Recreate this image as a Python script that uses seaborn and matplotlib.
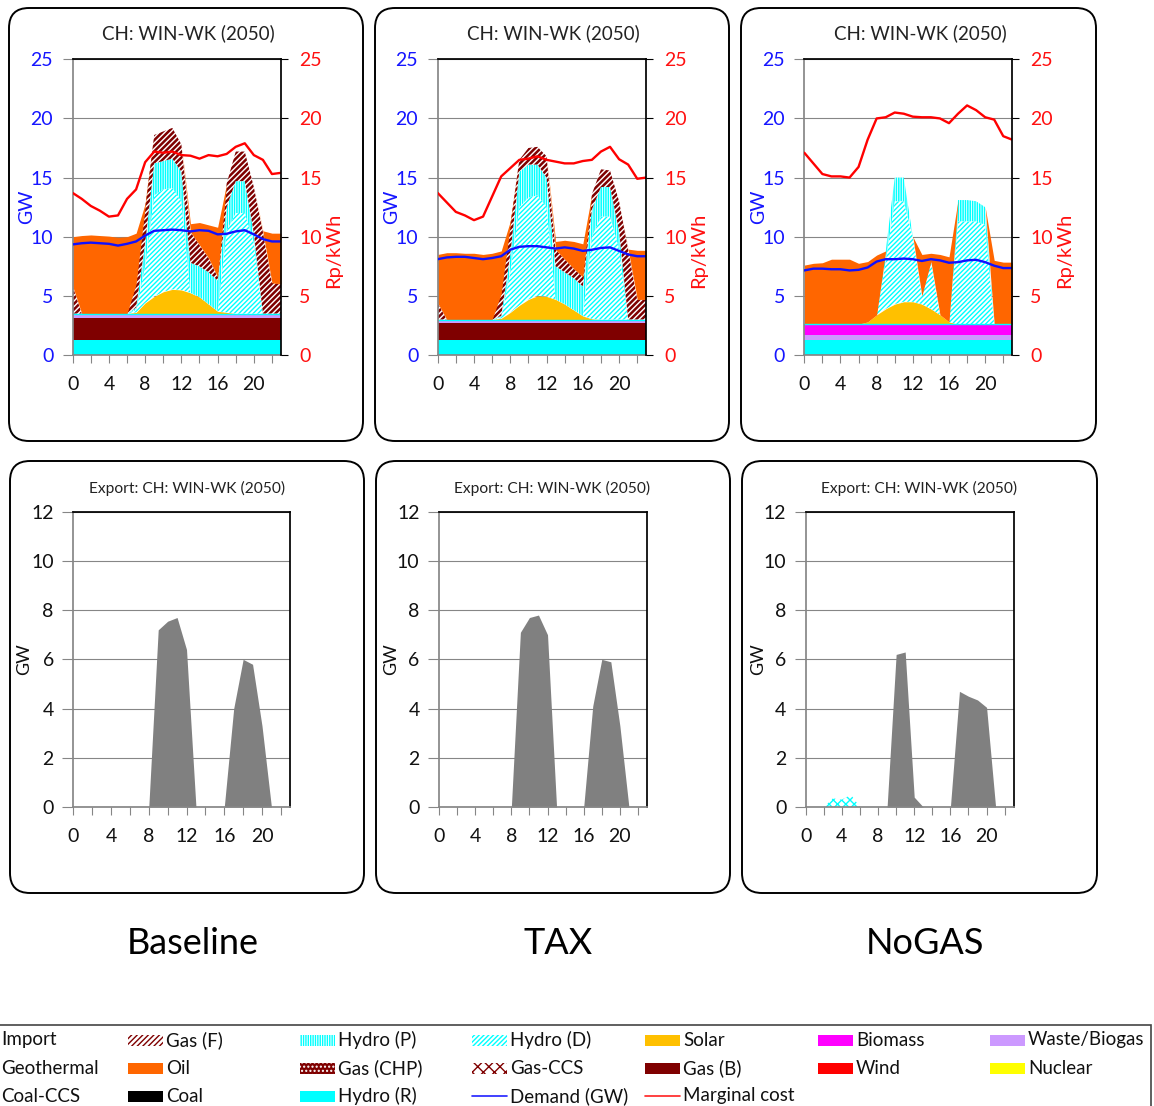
import matplotlib
matplotlib.use("Agg")
import numpy as np
import matplotlib.pyplot as plt
from matplotlib.patches import FancyBboxPatch, Rectangle
from matplotlib.lines import Line2D
import seaborn as sns

hours = list(range(24))
scenarios = ["Baseline", "TAX", "NoGAS"]

# --- Baseline: dispatch (GW), stacked bottom -> top
base_hydro_r = [1.3] * 24
base_gas_b = [1.8] * 24
base_waste = [0.4] * 24
base_biomass = [0.0] * 24
base_solar = [0, 0, 0, 0, 0, 0, 0, 0.1, 0.9, 1.45, 1.85, 2.05, 2.0, 1.75, 1.4, 0.8, 0.2, 0.1, 0, 0, 0, 0, 0, 0]
base_hydro_d = [0, 0, 0, 0, 0, 0, 0, 0.2, 3.1, 8.55, 8.65, 8.55, 7.5, 0, 0, 0, 0, 6.9, 8.5, 8.5, 6.0, 0, 0, 0]
base_hydro_p = [0, 0, 0, 0, 0, 0, 0, 0.2, 2.0, 2.7, 2.4, 2.5, 2.5, 2.55, 2.6, 2.7, 2.6, 2.0, 2.7, 2.7, 0.8, 0, 0, 0]
base_gas_f = [2.3, 0, 0, 0, 0, 0, 0, 2.0, 3.0, 2.4, 2.5, 2.6, 2.3, 2.6, 1.8, 1.2, 0.3, 2.0, 2.5, 2.5, 3.9, 6.9, 2.6, 2.5]
base_import = [4.2, 6.6, 6.65, 6.6, 6.55, 6.45, 6.5, 4.3, 0.3, 0, 0, 0, 0, 0.7, 1.9, 2.8, 4.2, 0, 0, 0, 0, 0.1, 4.2, 4.3]
base_demand = [9.35, 9.45, 9.5, 9.45, 9.4, 9.25, 9.4, 9.6, 10.1, 10.5, 10.55, 10.6, 10.55, 10.45, 10.55, 10.5, 10.2, 10.25, 10.45, 10.55, 10.2, 9.8, 9.6, 9.6]
base_mc = [13.7, 13.2, 12.6, 12.2, 11.7, 11.8, 13.2, 14.0, 16.3, 17.2, 17.1, 17.2, 16.9, 16.85, 16.6, 16.9, 16.8, 17.0, 17.6, 17.9, 16.9, 16.5, 15.3, 15.4]
base_export = [0, 0, 0, 0, 0, 0, 0, 0, 0, 7.2, 7.55, 7.7, 6.4, 0, 0, 0, 0, 4.0, 6.0, 5.8, 3.3, 0, 0, 0]

# --- TAX
tax_hydro_r = [1.3] * 24
tax_gas_b = [1.4] * 24
tax_waste = [0.3] * 24
tax_biomass = [0.0] * 24
tax_solar = [0, 0, 0, 0, 0, 0, 0, 0.1, 0.6, 1.2, 1.7, 2.0, 1.95, 1.7, 1.3, 0.8, 0.3, 0.05, 0, 0, 0, 0, 0, 0]
tax_hydro_d = [0, 0, 0, 0, 0, 0, 0, 0.1, 3.4, 8.3, 8.6, 8.5, 7.55, 0, 0, 0, 0, 6.95, 8.7, 8.7, 6.0, 0, 0, 0]
tax_hydro_p = [0, 0, 0, 0, 0, 0, 0, 0.1, 1.5, 3.0, 2.8, 2.6, 2.5, 2.8, 2.7, 2.7, 2.5, 2.3, 2.5, 2.5, 1.5, 0, 0, 0]
tax_gas_f = [1.4, 0, 0, 0, 0, 0, 0, 1.9, 2.5, 1.0, 1.4, 1.5, 1.8, 1.4, 1.1, 0.8, 0.8, 1.3, 1.5, 1.4, 2.5, 5.9, 1.7, 1.7]
tax_import = [4.1, 5.65, 5.65, 5.6, 5.6, 5.5, 5.6, 3.6, 0.3, 0, 0, 0, 0, 0.7, 1.6, 2.3, 2.8, 0, 0, 0, 0, 0.05, 4.15, 4.15]
tax_demand = [8.1, 8.25, 8.3, 8.3, 8.2, 8.1, 8.2, 8.35, 8.9, 9.15, 9.2, 9.2, 9.1, 9.0, 9.1, 9.0, 8.8, 8.9, 9.05, 9.1, 8.8, 8.5, 8.35, 8.35]
tax_mc = [13.7, 12.9, 12.1, 11.8, 11.4, 11.7, 13.4, 15.1, 15.8, 16.5, 16.6, 16.8, 16.5, 16.35, 16.2, 16.2, 16.4, 16.5, 17.2, 17.6, 16.55, 16.1, 14.9, 15.0]
tax_export = [0, 0, 0, 0, 0, 0, 0, 0, 0, 7.1, 7.7, 7.8, 7.0, 0, 0, 0, 0, 4.1, 6.0, 5.9, 3.3, 0, 0, 0]

# --- NoGAS
ng_hydro_r = [1.3] * 24
ng_gas_b = [0.0] * 24
ng_waste = [0.4] * 24
ng_biomass = [0.9] * 24
ng_solar = [0, 0, 0, 0, 0, 0, 0, 0.2, 0.8, 1.3, 1.7, 1.9, 1.9, 1.7, 1.3, 0.8, 0.2, 0, 0, 0, 0, 0, 0, 0]
ng_hydro_d = [0, 0, 0, 0, 0, 0, 0, 0, 0, 4.1, 8.7, 8.5, 5.5, 0.7, 4.0, 0, 0, 8.7, 8.7, 8.7, 8.4, 0, 0, 0]
ng_hydro_p = [0, 0, 0, 0, 0, 0, 0, 0, 0, 0.8, 2.0, 2.0, 0, 0, 0, 0, 0, 1.8, 1.8, 1.7, 1.5, 0, 0, 0]
ng_gas_f = [0.0] * 24
ng_import = [5.0, 5.15, 5.2, 5.5, 5.5, 5.5, 5.15, 5.1, 5.05, 0, 0, 0, 0, 3.5, 0.7, 5.1, 5.5, 0, 0, 0, 0, 5.4, 5.25, 5.25]
ng_demand = [7.15, 7.3, 7.3, 7.25, 7.25, 7.15, 7.2, 7.4, 7.9, 8.1, 8.1, 8.15, 8.1, 7.95, 8.1, 8.0, 7.8, 7.85, 8.0, 8.05, 7.85, 7.55, 7.35, 7.35]
ng_mc = [17.1, 16.2, 15.3, 15.1, 15.1, 15.0, 15.9, 18.2, 20.0, 20.1, 20.5, 20.4, 20.15, 20.1, 20.1, 20.0, 19.6, 20.4, 21.1, 20.7, 20.1, 19.9, 18.5, 18.2]
ng_export = [0, 0, 0, 0, 0, 0, 0, 0, 0, 0, 6.2, 6.3, 0.4, 0, 0, 0, 0, 4.7, 4.5, 4.35, 4.05, 0, 0, 0]
ng_export_hydro = [0, 0, 0, 0.35, 0.3, 0.5, 0, 0, 0, 0, 0, 0, 0, 0, 0, 0, 0, 0, 0, 0, 0, 0, 0, 0]

stacks = [
    [base_hydro_r, base_gas_b, base_waste, base_biomass, base_solar, base_hydro_d, base_hydro_p, base_gas_f, base_import],
    [tax_hydro_r, tax_gas_b, tax_waste, tax_biomass, tax_solar, tax_hydro_d, tax_hydro_p, tax_gas_f, tax_import],
    [ng_hydro_r, ng_gas_b, ng_waste, ng_biomass, ng_solar, ng_hydro_d, ng_hydro_p, ng_gas_f, ng_import],
]
demands = [base_demand, tax_demand, ng_demand]
mcs = [base_mc, tax_mc, ng_mc]
exports = [base_export, tax_export, ng_export]

CYAN = "#00FFFF"
GASRED = "#7F0000"
GREY = "#868686"
# fill style per stacked layer (same order as the stacks)
layer_styles = [
    dict(color=CYAN),
    dict(color=GASRED),
    dict(color="#CC99FF"),
    dict(color="#FF00FF"),
    dict(color="#FFC000"),
    dict(facecolor="white", edgecolor=CYAN, hatch="///////", hlw=1.0),
    dict(facecolor="white", edgecolor=CYAN, hatch="|||||||", hlw=1.1),
    dict(facecolor="white", edgecolor=GASRED, hatch="//////", hlw=1.8),
    dict(color="#FF6600"),
]

sns.set_theme(style="white")
plt.rcParams["font.family"] = ["Lato", "DejaVu Sans"]
plt.rcParams["hatch.linewidth"] = 1.0

W, H = 1154, 1106
fig = plt.figure(figsize=(W / 100, H / 100), dpi=100)


def rect(l, t, r, b):
    return [l / W, 1 - b / H, (r - l) / W, (b - t) / H]


def rounded_box(l, t, r, b):
    p = FancyBboxPatch((l / 100, (H - b) / 100), (r - l) / 100, (b - t) / 100,
                       boxstyle="round,pad=0,rounding_size=0.2",
                       transform=fig.dpi_scale_trans, fc="none", ec="black", lw=1.4)
    fig.add_artist(p)


def fill_layer(ax, lo, hi, st):
    st = dict(st)
    hlw = st.pop("hlw", None)
    if hlw is None:
        return ax.fill_between(hours, lo, hi, lw=0, **st)
    with plt.rc_context({"hatch.linewidth": hlw}):
        coll = ax.fill_between(hours, lo, hi, lw=0, **st)
    if hasattr(coll, "set_hatch_linewidth"):
        coll.set_hatch_linewidth(hlw)
    return coll


def style_x(ax):
    ax.set_xlim(0, 23)
    ax.set_xticks([0, 4, 8, 12, 16, 20])
    ax.set_xticks([2, 6, 10, 14, 18, 22], minor=True)
    ax.tick_params(axis="x", which="both", direction="out", length=6, width=0.8,
                   color=GREY, labelsize=14, pad=9, bottom=True, labelcolor="#111111")
    ax.spines["left"].set_color(GREY)
    ax.spines["bottom"].set_color(GREY)
    ax.spines["top"].set_color("black")
    ax.yaxis.grid(True, color=GREY, lw=0.8)
    ax.xaxis.grid(False)
    ax.set_axisbelow(True)


top_axes = [(72.7, 59.3, 281, 355), (437.7, 59.3, 646.3, 355), (804.3, 59.3, 1012.3, 355)]
bot_axes = [(73.3, 511.7, 290.3, 807), (439, 511.7, 647, 807), (805.7, 511.7, 1013.7, 807)]
top_boxes = [(9, 8, 363, 441), (375, 8, 729, 441), (741, 8, 1096, 441)]
bot_boxes = [(10, 461, 364, 893), (376, 461, 730, 893), (742, 461, 1097, 893)]
title_x = [188, 553, 920]
export_title_x = [187, 552, 919]
scen_x = [193, 558, 925]

for i in range(3):
    rounded_box(*top_boxes[i])
    rounded_box(*bot_boxes[i])

    # ---- dispatch chart
    ax = fig.add_axes(rect(*top_axes[i]))
    lower = np.zeros(24)
    for k, (vals, st) in enumerate(zip(stacks[i], layer_styles)):
        upper = lower + np.array(vals)
        fill_layer(ax, lower, upper, st)
        lower = upper
        if k == 3:
            ax.plot(hours, lower, color=CYAN, lw=1.0, zorder=2)
    sns.lineplot(x=hours, y=demands[i], ax=ax, color="#1010FF", lw=1.7, zorder=5)
    ax.set_ylim(0, 25)
    ax.set_yticks(range(0, 26, 5))
    style_x(ax)
    ax.spines["right"].set_visible(False)
    ax.tick_params(axis="y", direction="out", length=7, width=0.8, color=GREY,
                   labelsize=14, labelcolor="#1515FF", pad=7, left=True)
    ax.set_ylabel("GW", color="#1515FF", fontsize=14)
    ax.yaxis.set_label_coords(-0.18, 0.5)
    ax.set_xlabel("")

    ax2 = ax.twinx()
    sns.lineplot(x=hours, y=mcs[i], ax=ax2, color="#FF0000", lw=1.7)
    ax2.set_ylim(0, 25)
    ax2.set_xlim(0, 23)
    ax2.set_yticks(range(0, 26, 5))
    ax2.tick_params(axis="y", direction="out", length=5, width=0.8, color="black",
                    labelsize=14, labelcolor="#FF1010", pad=8, right=True)
    for s in ("top", "left", "bottom"):
        ax2.spines[s].set_visible(False)
    ax2.spines["right"].set_color("black")
    ax2.set_ylabel("Rp/kWh", color="#FF1010", fontsize=14.5)
    ax2.yaxis.set_label_coords(1.21, 0.355)
    ax2.grid(False)

    fig.text(title_x[i] / W, 1 - 33 / H, "CH: WIN-WK (2050)", ha="center", va="center",
             fontsize=13.5, color="#222222")

    # ---- export chart
    bx = fig.add_axes(rect(*bot_axes[i]))
    bx.fill_between(hours, 0, exports[i], color="#808080", lw=0)
    if i == 2:
        fill_layer(bx, np.zeros(24), np.array(ng_export_hydro),
                   dict(facecolor="white", edgecolor=CYAN, hatch="xxxx", hlw=1.0))
    bx.set_ylim(0, 12)
    bx.set_yticks(range(0, 13, 2))
    style_x(bx)
    bx.spines["right"].set_color("black")
    bx.tick_params(axis="y", direction="out", length=8, width=0.8, color=GREY,
                   labelsize=14, labelcolor="#111111", pad=6, left=True)
    bx.set_ylabel("GW", color="#111111", fontsize=13)
    bx.yaxis.set_label_coords(-0.19, 0.5)
    fig.text(export_title_x[i] / W, 1 - 488 / H, "Export: CH: WIN-WK (2050)", ha="center",
             va="center", fontsize=11.2, color="#222222")

    fig.text(scen_x[i] / W, 1 - 944 / H, scenarios[i], ha="center", va="center",
             fontsize=26, color="black")

# ---- legend (cropped on the left, as in the source figure)
legend_rows = [
    ["Import", "Gas (F)", "Hydro (P)", "Hydro (D)", "Solar", "Biomass", "Waste/Biogas"],
    ["Geothermal", "Oil", "Gas (CHP)", "Gas-CCS", "Gas (B)", "Wind", "Nuclear"],
    ["Coal-CCS", "Coal", "Hydro (R)", "Demand (GW)", "Marginal cost"],
]
legend_styles = {
    "Import": dict(fc="#FF6600"),
    "Geothermal": dict(fc="#996633"),
    "Coal-CCS": dict(fc="#404040"),
    "Gas (F)": dict(fc="white", ec=GASRED, hatch="//////"),
    "Hydro (P)": dict(fc="white", ec=CYAN, hatch="|||||||"),
    "Hydro (D)": dict(fc="white", ec=CYAN, hatch="///////"),
    "Solar": dict(fc="#FFC000"),
    "Biomass": dict(fc="#FF00FF"),
    "Waste/Biogas": dict(fc="#CC99FF"),
    "Oil": dict(fc="#FF6600"),
    "Gas (CHP)": dict(fc=GASRED, ec="white", hatch="...."),
    "Gas-CCS": dict(fc="white", ec=GASRED, hatch="xxx"),
    "Gas (B)": dict(fc=GASRED),
    "Wind": dict(fc="#FF0000"),
    "Nuclear": dict(fc="#FFFF00"),
    "Coal": dict(fc="black"),
    "Hydro (R)": dict(fc=CYAN),
    "Demand (GW)": dict(line="#2020FF"),
    "Marginal cost": dict(line="#FF2020"),
}
col_x = [-37, 128, 300, 472, 645, 818, 990]
row_y = [1040, 1068, 1096]

fig.add_artist(Rectangle((-0.1, (H - 1120) / 100), (1151 + 10) / 100, (1120 - 1025) / 100,
                         transform=fig.dpi_scale_trans, fc="none", ec="#444444", lw=1.2))
for r, row in enumerate(legend_rows):
    y = row_y[r]
    for c, name in enumerate(row):
        x = col_x[c]
        st = legend_styles[name]
        if "line" in st:
            fig.add_artist(Line2D([x / W, (x + 35) / W], [1 - y / H, 1 - y / H],
                                  transform=fig.transFigure, color=st["line"], lw=1.2))
        else:
            fig.add_artist(Rectangle((x / 100, (H - y - 5.5) / 100), 0.35, 0.11,
                                     transform=fig.dpi_scale_trans, lw=0,
                                     fc=st["fc"], ec=st.get("ec", st["fc"]),
                                     hatch=st.get("hatch")))
        fig.text((x + 38) / W, 1 - y / H, name, ha="left", va="center",
                 fontsize=13.5, color="#111111")

fig.savefig("out.png", dpi=100)
